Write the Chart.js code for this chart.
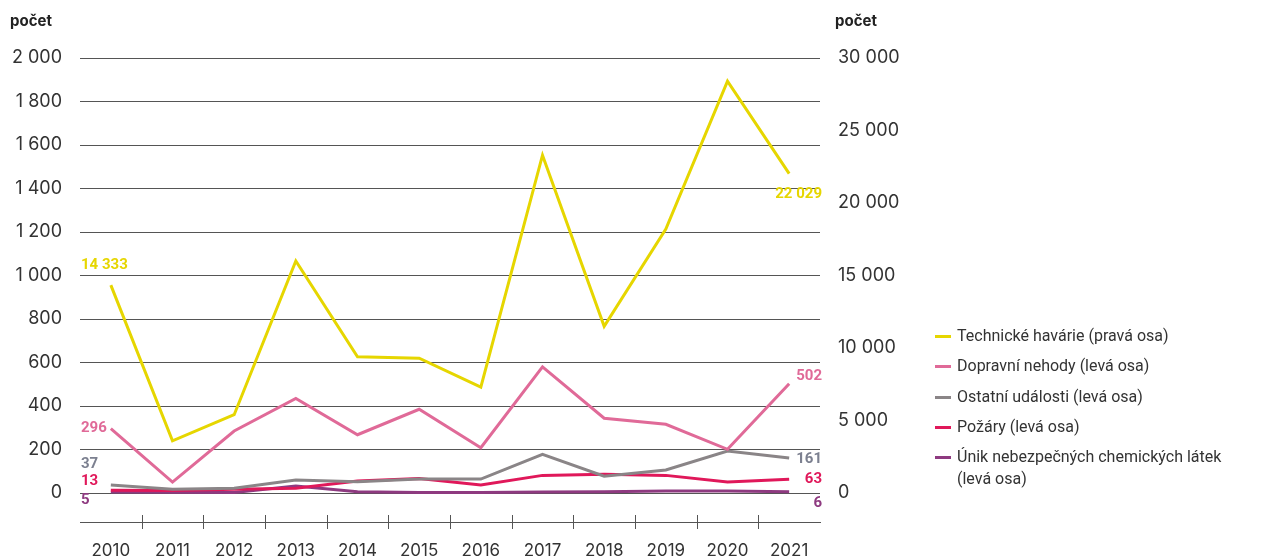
<!DOCTYPE html>
<html lang="cs">
<head>
<meta charset="utf-8">
<title>Mimořádné události</title>
<script src="https://cdn.jsdelivr.net/npm/chart.js@4.4.1/dist/chart.umd.min.js"></script>
<style>
    html, body { margin: 0; padding: 0; background: #fff; }
    #wrap { position: relative; width: 1286px; height: 556px; }
    #chart { position: absolute; left: 0; top: 0; }
    #legend { position: absolute; left: 935px; top: 325px; font: 16px Roboto, sans-serif; color: #333; }
    #legend .item { position: relative; padding-left: 22px; line-height: 22px; margin-bottom: 8.3px; white-space: pre; }
    #legend .swatch { position: absolute; left: 0; top: 10px; width: 16px; height: 3px; }
</style>
</head>
<body>
<div id="wrap">
    <canvas id="chart" width="1286" height="556"></canvas>
    <div id="legend"></div>
</div>
<script>
// Data
const years = ['2010', '2011', '2012', '2013', '2014', '2015', '2016', '2017', '2018', '2019', '2020', '2021'];

const technickeHavarie = [14333, 3600, 5400, 16000, 9400, 9300, 7300, 23300, 11500, 18200, 28400, 22029];
const dopravniNehody = [296, 50, 285, 435, 268, 385, 208, 580, 344, 316, 201, 502];
const ostatniUdalosti = [37, 17, 22, 60, 52, 64, 64, 178, 77, 106, 193, 161];
const pozary = [13, 12, 17, 22, 55, 67, 37, 81, 86, 81, 51, 63];
const unikLatek = [5, 3, 2, 32, 6, 2, 2, 5, 6, 9, 9, 6];

const leftTicks = [0, 200, 400, 600, 800, 1000, 1200, 1400, 1600, 1800, 2000];
const rightTicks = [0, 5000, 10000, 15000, 20000, 25000, 30000];

const seriesNames = [
    'Technické havárie (pravá osa)',
    'Dopravní nehody (levá osa)',
    'Ostatní události (levá osa)',
    'Požáry (levá osa)',
    'Únik nebezpečných chemických látek\n(levá osa)'
];

const COLORS = {
    yellow: '#e6d600',
    pink: '#e06a98',
    gray: '#8a8587',
    red: '#e0185a',
    purple: '#8e3a80'
};

// first / last value labels (offsets in px from the point)
const labelStyle = [
    { color: COLORS.yellow, startDy: -20, endDy: 21 },
    { color: COLORS.pink, startDy: 0, endDy: -8 },
    { color: '#7c8090', startDy: -21, endDy: 1 },
    { color: COLORS.red, startDy: -9, endDy: 0 },
    { color: COLORS.purple, startDy: 8, endDy: 12 }
];

const fmt = v => String(v).replace(/\B(?=(\d{3})+(?!\d))/g, ' ');

const lineDs = (label, data, color, axis) => ({
    label: label,
    data: data,
    borderColor: color,
    backgroundColor: color,
    borderWidth: 3,
    pointRadius: 0,
    pointHoverRadius: 0,
    tension: 0,
    yAxisID: axis
});

// Tick marks crossing the x axis line + axis titles + end labels
const decorPlugin = {
    id: 'decor',
    beforeDatasetsDraw(chart) {
        const ctx = chart.ctx;
        const x = chart.scales.x;
        const bottom = chart.chartArea.bottom;
        ctx.save();
        ctx.strokeStyle = '#555';
        ctx.lineWidth = 1;
        for (let i = 0; i < years.length - 1; i++) {
            const px = Math.round((x.getPixelForValue(i) + x.getPixelForValue(i + 1)) / 2) + 0.5;
            ctx.beginPath();
            ctx.moveTo(px, bottom - 7);
            ctx.lineTo(px, bottom + 7);
            ctx.stroke();
        }
        ctx.restore();
    },
    afterDraw(chart) {
        const ctx = chart.ctx;
        const area = chart.chartArea;
        ctx.save();
        ctx.fillStyle = '#222';
        ctx.font = 'bold 15px Inter, Roboto, sans-serif';
        ctx.textBaseline = 'middle';
        ctx.textAlign = 'left';
        ctx.fillText('počet', 10, 21);
        ctx.fillText('počet', 835, 21);

        ctx.font = 'bold 15px Roboto, sans-serif';
        chart.data.datasets.forEach((ds, i) => {
            const meta = chart.getDatasetMeta(i);
            const first = meta.data[0];
            const last = meta.data[meta.data.length - 1];
            const st = labelStyle[i];
            ctx.fillStyle = st.color;
            ctx.textAlign = 'left';
            ctx.fillText(fmt(ds.data[0]), area.left + 1, first.y + st.startDy);
            ctx.textAlign = 'right';
            ctx.fillText(fmt(ds.data[ds.data.length - 1]), area.right + 2, last.y + st.endDy);
        });
        ctx.restore();
    }
};

const yTickFont = { family: 'Inter, Roboto, sans-serif', size: 18 };
const xTickFont = { family: 'Inter, Roboto, sans-serif', size: 17, lineHeight: 1 };

const ctx = document.getElementById('chart');
const chart = new Chart(ctx, {
    type: 'line',
    data: {
        labels: years,
        datasets: [
            lineDs(seriesNames[0], technickeHavarie, COLORS.yellow, 'yR'),
            lineDs(seriesNames[1], dopravniNehody, COLORS.pink, 'yL'),
            lineDs(seriesNames[2], ostatniUdalosti, COLORS.gray, 'yL'),
            lineDs(seriesNames[3], pozary, COLORS.red, 'yL'),
            lineDs(seriesNames[4], unikLatek, COLORS.purple, 'yL')
        ]
    },
    options: {
        responsive: false,
        animation: false,
        layout: { padding: { top: 58, right: 366, bottom: 0, left: 0 } },
        plugins: {
            legend: { display: false },
            tooltip: { enabled: false }
        },
        scales: {
            x: {
                offset: true,
                grid: { display: false, offset: true },
                border: { display: true, color: '#555', width: 1 },
                ticks: {
                    color: '#333',
                    font: xTickFont,
                    padding: 12,
                    maxRotation: 0
                },
                afterFit: s => { s.height = 34; }
            },
            yL: {
                position: 'left',
                min: -2000 / 15,
                max: 2000,
                afterBuildTicks: s => { s.ticks = leftTicks.map(v => ({ value: v })); },
                grid: { color: '#555', lineWidth: 1, drawTicks: false },
                border: { display: false },
                ticks: {
                    color: '#333',
                    font: yTickFont,
                    padding: 18,
                    callback: v => fmt(v)
                },
                afterFit: s => { s.width = 80; }
            },
            yR: {
                position: 'right',
                min: -2000,
                max: 30000,
                afterBuildTicks: s => { s.ticks = rightTicks.map(v => ({ value: v })); },
                grid: { display: false, drawTicks: false },
                border: { display: false },
                ticks: {
                    color: '#333',
                    font: yTickFont,
                    padding: 18,
                    callback: v => fmt(v)
                },
                afterFit: s => { s.width = 100; }
            }
        }
    },
    plugins: [decorPlugin]
});

// HTML legend built from the dataset list
const legendEl = document.getElementById('legend');
chart.data.datasets.forEach(ds => {
    const item = document.createElement('div');
    item.className = 'item';
    const sw = document.createElement('span');
    sw.className = 'swatch';
    sw.style.background = ds.borderColor;
    item.appendChild(sw);
    item.appendChild(document.createTextNode(ds.label));
    legendEl.appendChild(item);
});
</script>
</body>
</html>
